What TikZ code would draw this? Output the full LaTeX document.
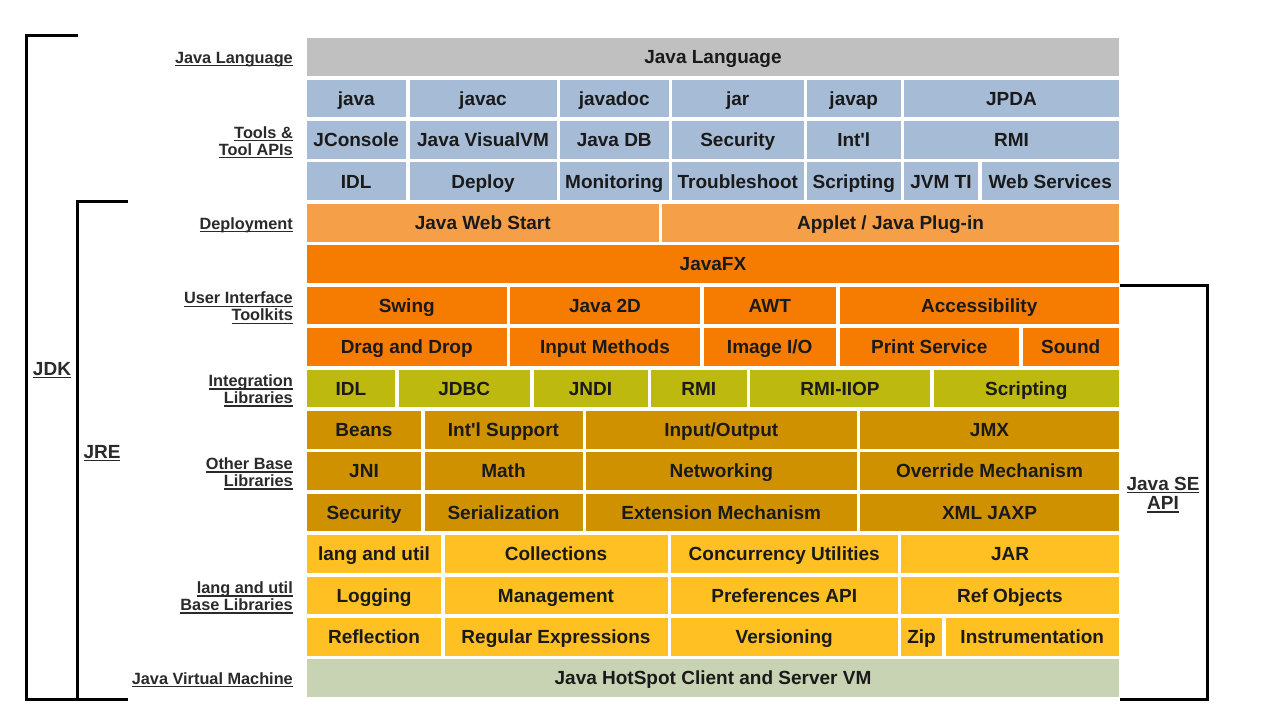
\documentclass[tikz,border=0pt]{standalone}
\usepackage{fontspec}
\newfontfamily\lib{Liberation Sans}
\definecolor{cLang}{HTML}{C0C0C0}
\definecolor{cTool}{HTML}{A6BCD6}
\definecolor{cDep}{HTML}{F5A048}
\definecolor{cUI}{HTML}{F57C00}
\definecolor{cInt}{HTML}{BDB90F}
\definecolor{cBase}{HTML}{D09100}
\definecolor{cUtil}{HTML}{FEC022}
\definecolor{cVM}{HTML}{C7D3B2}
\definecolor{cTxt}{HTML}{1A1A1A}
\definecolor{cLbl}{HTML}{2A2A2A}
\newsavebox\ulbox
\newcommand\ulbl[1]{\sbox\ulbox{#1}\leavevmode\rlap{\raisebox{-3pt}{\rule{\wd\ulbox}{1.4pt}}}\usebox\ulbox}
\newcommand\bx[6]{% name, x1, x2, row, fill, text
  \pgfmathsetmacro\bxw{#3-#2}%
  \pgfmathsetmacro\bxc{(#2+#3)/2}%
  \pgfmathsetmacro\bxy{57.1+41.4*#4}%
  \node[cell,fill=#5,minimum width=\bxw pt] (#1) at (\bxc,\bxy) {#6};}
\begin{document}
\begin{tikzpicture}[x=1pt,y=-1pt,
  cell/.style={inner sep=0pt,minimum height=37.6pt,text=cTxt,
    text height=13.6pt,text depth=0pt,
    font=\lib\fontsize{19}{22}\selectfont\bfseries},
  sidelbl/.style={anchor=east,align=right,inner sep=0pt,text=cLbl,yshift=-2.5pt,
    font=\lib\fontsize{16.3}{17}\selectfont\bfseries},
  biglbl/.style={align=center,inner sep=0pt,text=cLbl,yshift=-2pt,
    font=\lib\fontsize{19}{19.5}\selectfont\bfseries},
  bracket/.style={line width=3pt,draw=black,line cap=rect}]
\useasboundingbox (0,0) rectangle (1266,714);
\fill[white] (0,0) rectangle (1266,714);
% row 0
\bx{lang}{307}{1119}{0}{cLang}{Java Language}
% rows 1-3 tools
\bx{java}{307}{405.5}{1}{cTool}{java}
\bx{javac}{409.5}{556.5}{1}{cTool}{javac}
\bx{javadoc}{560}{668.5}{1}{cTool}{javadoc}
\bx{jar}{672}{803.5}{1}{cTool}{jar}
\bx{javap}{807}{900.5}{1}{cTool}{javap}
\bx{jpda}{904}{1119}{1}{cTool}{JPDA}
\bx{jconsole}{307}{405.5}{2}{cTool}{JConsole}
\bx{visualvm}{409.5}{556.5}{2}{cTool}{Java VisualVM}
\bx{javadb}{560}{668.5}{2}{cTool}{Java DB}
\bx{toolsec}{672}{803.5}{2}{cTool}{Security}
\bx{toolintl}{807}{900.5}{2}{cTool}{Int'l}
\bx{toolrmi}{904}{1119}{2}{cTool}{RMI}
\bx{toolidl}{307}{405.5}{3}{cTool}{IDL}
\bx{deploy}{409.5}{556.5}{3}{cTool}{Deploy}
\bx{monitoring}{560}{668.5}{3}{cTool}{Monitoring}
\bx{troubleshoot}{672}{803.5}{3}{cTool}{Troubleshoot}
\bx{toolscript}{807}{900.5}{3}{cTool}{Scripting}
\bx{jvmti}{904}{978}{3}{cTool}{JVM TI}
\bx{websvc}{981.5}{1119}{3}{cTool}{Web Services}
% row 4 deployment
\bx{webstart}{307}{658.5}{4}{cDep}{Java Web Start}
\bx{applet}{662}{1119}{4}{cDep}{Applet / Java Plug-in}
% rows 5-7 UI
\bx{javafx}{307}{1119}{5}{cUI}{JavaFX}
\bx{swing}{307}{506.5}{6}{cUI}{Swing}
\bx{java2d}{510}{700}{6}{cUI}{Java 2D}
\bx{awt}{703.5}{836}{6}{cUI}{AWT}
\bx{access}{839.5}{1119}{6}{cUI}{Accessibility}
\bx{dnd}{307}{506.5}{7}{cUI}{Drag and Drop}
\bx{inputm}{510}{700}{7}{cUI}{Input Methods}
\bx{imageio}{703.5}{836}{7}{cUI}{Image I/O}
\bx{print}{839.5}{1019}{7}{cUI}{Print Service}
\bx{sound}{1022.5}{1119}{7}{cUI}{Sound}
% row 8 integration
\bx{idl}{307}{395}{8}{cInt}{IDL}
\bx{jdbc}{398.5}{530}{8}{cInt}{JDBC}
\bx{jndi}{533.5}{647.5}{8}{cInt}{JNDI}
\bx{rmi}{651}{746.5}{8}{cInt}{RMI}
\bx{rmiiiop}{750}{930}{8}{cInt}{RMI-IIOP}
\bx{scripting}{933.5}{1119}{8}{cInt}{Scripting}
% rows 9-11 other base
\bx{beans}{307}{421}{9}{cBase}{Beans}
\bx{intlsup}{424.5}{582.5}{9}{cBase}{Int'l Support}
\bx{io}{586}{856.5}{9}{cBase}{Input/Output}
\bx{jmx}{860}{1119}{9}{cBase}{JMX}
\bx{jni}{307}{421}{10}{cBase}{JNI}
\bx{math}{424.5}{582.5}{10}{cBase}{Math}
\bx{net}{586}{856.5}{10}{cBase}{Networking}
\bx{override}{860}{1119}{10}{cBase}{Override Mechanism}
\bx{security}{307}{421}{11}{cBase}{Security}
\bx{serial}{424.5}{582.5}{11}{cBase}{Serialization}
\bx{extension}{586}{856.5}{11}{cBase}{Extension Mechanism}
\bx{jaxp}{860}{1119}{11}{cBase}{XML JAXP}
% rows 12-14 lang and util
\bx{langutil}{307}{441}{12}{cUtil}{lang and util}
\bx{collections}{444.5}{667.5}{12}{cUtil}{Collections}
\bx{concurrency}{671}{897.5}{12}{cUtil}{Concurrency Utilities}
\bx{jarlib}{901}{1119}{12}{cUtil}{JAR}
\bx{logging}{307}{441}{13}{cUtil}{Logging}
\bx{management}{444.5}{667.5}{13}{cUtil}{Management}
\bx{prefs}{671}{897.5}{13}{cUtil}{Preferences API}
\bx{refobj}{901}{1119}{13}{cUtil}{Ref Objects}
\bx{reflection}{307}{441}{14}{cUtil}{Reflection}
\bx{regex}{444.5}{667.5}{14}{cUtil}{Regular Expressions}
\bx{versioning}{671}{897.5}{14}{cUtil}{Versioning}
\bx{zip}{901}{942}{14}{cUtil}{Zip}
\bx{instr}{945.5}{1119}{14}{cUtil}{Instrumentation}
% row 15 VM
\bx{vm}{307}{1119}{15}{cVM}{Java HotSpot Client and Server VM}
% side labels
\node[sidelbl] (lLang) at (293,57.1) {\ulbl{Java Language}};
\node[sidelbl] (lTools) at (293,139.9) {\ulbl{Tools \&}\\\ulbl{Tool APIs}};
\node[sidelbl] (lDep) at (293,222.7) {\ulbl{Deployment}};
\node[sidelbl] (lUI) at (293,305.5) {\ulbl{User Interface}\\\ulbl{Toolkits}};
\node[sidelbl] (lInt) at (293,388.3) {\ulbl{Integration}\\\ulbl{Libraries}};
\node[sidelbl] (lBase) at (293,471.1) {\ulbl{Other Base}\\\ulbl{Libraries}};
\node[sidelbl] (lUtil) at (293,595.3) {\ulbl{lang and util}\\\ulbl{Base Libraries}};
\node[sidelbl] (lVM) at (293,677.1) {\ulbl{Java Virtual Machine}};
% brackets
\coordinate (jdkT) at (76,36);
\coordinate (jdkTL) at (26,36);
\coordinate (jdkBL) at (26,699);
\coordinate (jdkB) at (126,699);
\coordinate (jreT) at (126,202);
\coordinate (jreTL) at (77,202);
\coordinate (jreBL) at (77,699);
\coordinate (seT) at (1121,285);
\coordinate (seTR) at (1207,285);
\coordinate (seBR) at (1207,699);
\coordinate (seB) at (1121,699);
\draw[bracket] (jdkT) -- (jdkTL) -- (jdkBL) -- (jdkB);
\draw[bracket] (jreT) -- (jreTL) -- (jreBL);
\draw[bracket] (seT) -- (seTR) -- (seBR) -- (seB);
\node[biglbl] (jdk) at (52,368) {\ulbl{JDK}};
\node[biglbl] (jre) at (102,451) {\ulbl{JRE}};
\node[biglbl] (seapi) at (1163,493) {\ulbl{Java SE}\\\ulbl{API}};
\end{tikzpicture}
\end{document}
